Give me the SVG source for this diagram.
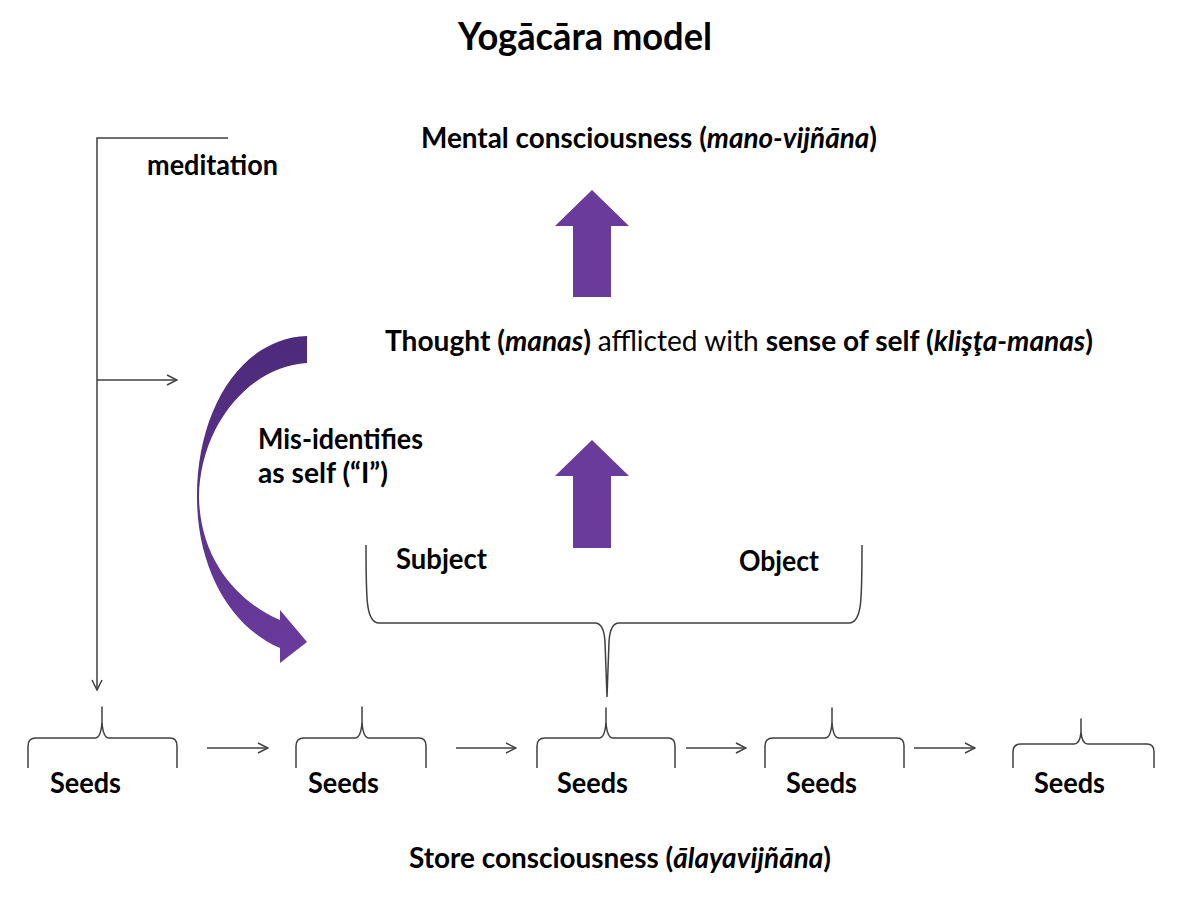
<svg xmlns="http://www.w3.org/2000/svg" width="1182" height="904" viewBox="0 0 1182 904">
<style>
  text { font-family: Lato, "Open Sans", "Liberation Sans", sans-serif; font-weight: bold; fill: #000; font-size: 28px; }
  .title { font-size: 38px; }
  .it { font-style: italic; }
  .rg { font-weight: normal; }
  .ln { fill: none; stroke: #404040; stroke-width: 1.5; }
  .br { fill: none; stroke: #404040; stroke-width: 1.5; stroke-linejoin: round; }
  .up { fill: #6a3b9b; }
</style>
<defs>
  <marker id="open" viewBox="0 0 12 12" refX="11" refY="6" markerWidth="12" markerHeight="12" markerUnits="userSpaceOnUse" orient="auto">
    <path d="M1,1 L11,6 L1,11" fill="none" stroke="#404040" stroke-width="1.5"/>
  </marker>
  <linearGradient id="cg" x1="0" y1="0" x2="0" y2="1">
    <stop offset="0" stop-color="#4d2a7b"/>
    <stop offset="0.5" stop-color="#5a3289"/>
    <stop offset="1" stop-color="#6b3b9e"/>
  </linearGradient>
</defs>
<rect width="1182" height="904" fill="#fff"/>

<g id="title">
  <text class="title" x="458" y="50" textLength="254" lengthAdjust="spacingAndGlyphs">Yogācāra model</text>
</g>

<g id="mental">
  <text x="421" y="148" textLength="456" lengthAdjust="spacingAndGlyphs">Mental consciousness (<tspan class="it">mano-vijñāna</tspan>)</text>
</g>

<g id="thought">
  <text x="385" y="351" textLength="708" lengthAdjust="spacingAndGlyphs">Thought (<tspan class="it">manas</tspan>) <tspan class="rg">afflicted with</tspan> sense of self (<tspan class="it">klişţa-manas</tspan>)</text>
</g>

<g id="misidentifies">
  <text x="258" y="449" textLength="165" lengthAdjust="spacingAndGlyphs">Mis-identifies</text>
  <text x="258" y="483" textLength="130" lengthAdjust="spacingAndGlyphs">as self (“I”)</text>
</g>

<g id="meditation-label">
  <text x="147" y="175" textLength="131" lengthAdjust="spacingAndGlyphs">meditation</text>
</g>

<g id="subject-object">
  <path class="br" d="M366,545 C366,600 366,623 379,623 L595,623 Q604,623 605,642 L607,697 M862,545 C862,600 862,623 849,623 L619,623 Q610,623 609,642 L607,697"/>
  <text x="396" y="569" textLength="91" lengthAdjust="spacingAndGlyphs">Subject</text>
  <text x="739" y="571" textLength="80" lengthAdjust="spacingAndGlyphs">Object</text>
</g>

<g id="seeds1">
  <path class="br" d="M28,768 L28,746 Q28,738 36,738 L95,738 Q101,738 102,722 L102,707 L102,722 Q103,738 109,738 L170,738 Q177,738 177,746 L177,768"/>
  <text x="50" y="793" textLength="71" lengthAdjust="spacingAndGlyphs">Seeds</text>
</g>
<g id="seeds2">
  <path class="br" d="M296,768 L296,746 Q296,738 304,738 L355,738 Q361,738 362,722 L362,707 L362,722 Q363,738 369,738 L419,738 Q426,738 426,746 L426,768"/>
  <text x="308" y="793" textLength="71" lengthAdjust="spacingAndGlyphs">Seeds</text>
</g>
<g id="seeds3">
  <path class="br" d="M537,768 L537,746 Q537,738 545,738 L599,738 Q605,738 606,722 L606,708 L606,722 Q607,738 613,738 L668,738 Q675,738 675,746 L675,768"/>
  <text x="557" y="793" textLength="71" lengthAdjust="spacingAndGlyphs">Seeds</text>
</g>
<g id="seeds4">
  <path class="br" d="M765,768 L765,746 Q765,738 773,738 L825,738 Q831,738 832,722 L832,708 L832,722 Q833,738 839,738 L897,738 Q904,738 904,746 L904,768"/>
  <text x="786" y="793" textLength="71" lengthAdjust="spacingAndGlyphs">Seeds</text>
</g>
<g id="seeds5">
  <path class="br" d="M1013,768 L1013,752 Q1013,744 1021,744 L1074,744 Q1080,744 1081,732 L1081,719 L1081,732 Q1082,744 1088,744 L1147,744 Q1154,744 1154,752 L1154,768"/>
  <text x="1034" y="793" textLength="71" lengthAdjust="spacingAndGlyphs">Seeds</text>
</g>

<g id="store">
  <text x="409" y="868" textLength="422" lengthAdjust="spacingAndGlyphs">Store consciousness (<tspan class="it">ālayavijñāna</tspan>)</text>
</g>

<g id="up-arrows">
  <path class="up" d="M592,190 L629,226 L611,226 L611,297 L573,297 L573,226 L555,226 Z"/>
  <path class="up" d="M592,440 L629,476 L611,476 L611,548 L573,548 L573,476 L555,476 Z"/>
</g>

<g id="curved-arrow">
  <path fill="url(#cg)" d="M307,336 C242,338 197,408 197,497 C197,570 232,628 280,648 L280,663 L307,642 L280,610 L280,620 C238,602 200,560 199,497 C200,425 250,366 307,363 Z"/>
</g>

<g id="connectors">
  <path class="ln" d="M228,138 L97,138 L97,690" marker-end="url(#open)"/>
  <path class="ln" d="M97,380 L177,380" marker-end="url(#open)"/>
  <path class="ln" d="M207,748 L268,748" marker-end="url(#open)"/>
  <path class="ln" d="M456,748 L516,748" marker-end="url(#open)"/>
  <path class="ln" d="M686,748 L746,748" marker-end="url(#open)"/>
  <path class="ln" d="M914,748 L975,748" marker-end="url(#open)"/>
</g>
</svg>
